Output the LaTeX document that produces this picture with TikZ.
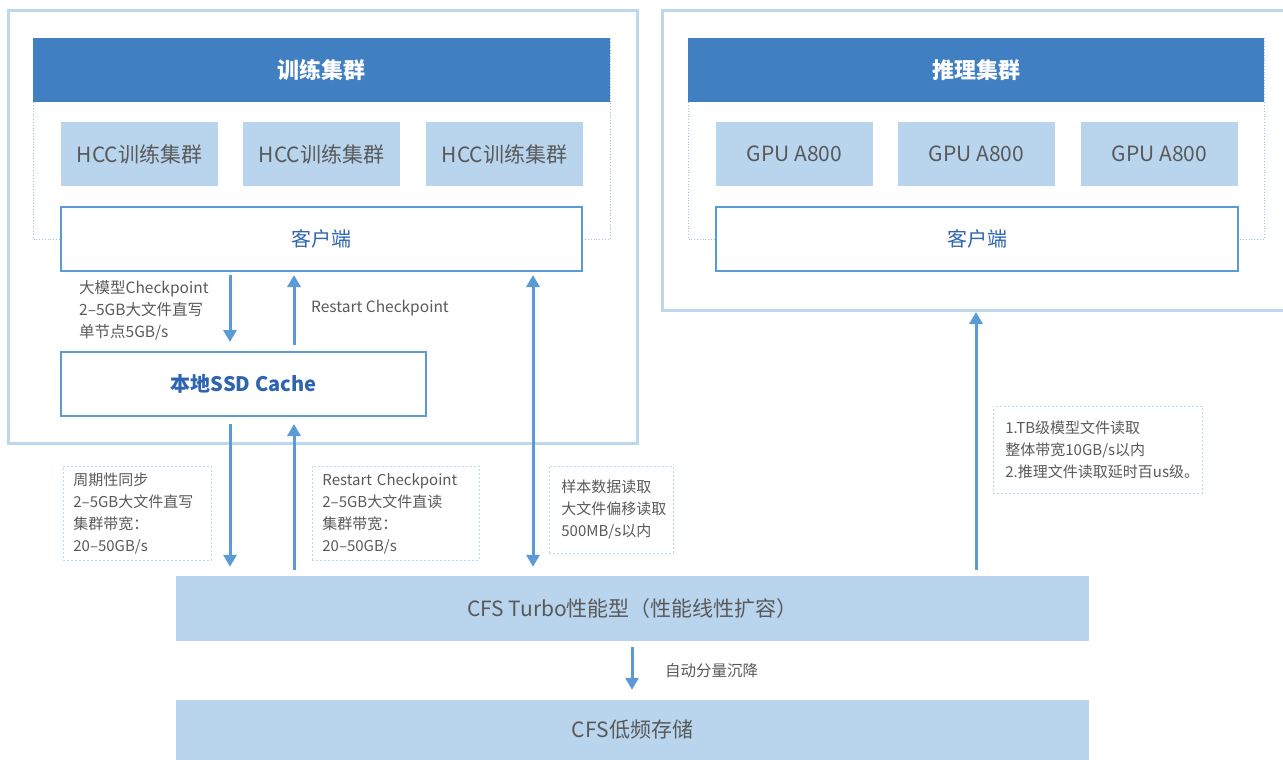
\documentclass[tikz,border=0pt]{standalone}
\usepackage{fontspec}
\setmainfont{Noto Sans CJK SC}
\usepackage{tikz}
\usetikzlibrary{arrows.meta}
\definecolor{frame}{HTML}{BDD7EE}
\definecolor{head}{HTML}{3F7FC2}
\definecolor{cell}{HTML}{B9D5EE}
\definecolor{wire}{HTML}{5B9BD5}
\definecolor{ink}{HTML}{595959}
\definecolor{deep}{HTML}{2E64B0}
\definecolor{dots}{HTML}{9DC3E6}
\tikzset{
  outerbox/.style={draw=frame, line width=3pt},
  group/.style={draw=dots, line width=0.8pt, dotted},
  header/.style={fill=head, text=white, minimum width=577pt, minimum height=64pt, font=\fontsize{22}{26}\selectfont\bfseries},
  unit/.style={fill=cell, text=ink, minimum width=157pt, minimum height=64pt, font=\fontsize{21}{24}\selectfont},
  client/.style={draw=wire, fill=white, line width=2pt, text=deep, minimum height=64pt, font=\fontsize{20}{24}\selectfont},
  store/.style={fill=cell, text=ink, minimum width=913pt, font=\fontsize{21}{24}\selectfont},
  flow/.style={draw=wire, line width=3pt, -{Triangle[width=13pt,length=12pt]}},
  note/.style={draw=frame, line width=0.8pt, dash pattern=on 2pt off 2pt, text=ink, align=left, anchor=north west, font=\fontsize{15}{22}\selectfont},
  lab/.style={text=ink, align=left, anchor=west, inner xsep=0pt, font=\fontsize{15.5}{22}\selectfont},
}

\begin{document}
\begin{tikzpicture}[x=1pt, y=-1pt]
  \useasboundingbox (0,0) rectangle (1283,760);

  % training cluster
  \draw[outerbox] (8,11) rectangle (637,443);
  \draw[group] (33,38) rectangle (610,239);
  \node[header] (trainHead) at (321.5,70) {训练集群};
  \node[unit] (hcc1) at (139.5,154) {HCC训练集群};
  \node[unit] (hcc2) at (321.5,154) {HCC训练集群};
  \node[unit] (hcc3) at (504.5,154) {HCC训练集群};
  \node[client, minimum width=521pt] (trainClient) at (321.5,239) {客户端};
  \node[client, minimum width=365pt, font=\fontsize{20}{24}\selectfont\bfseries] (ssd) at (243.5,384) {本地SSD Cache};

  % inference cluster
  \draw[outerbox] (1290,11) -- (662,11) -- (662,310) -- (1290,310);
  \coordinate (inferBase) at (976,310);
  \draw[group] (688,38) rectangle (1264,239);
  \node[header, minimum width=576pt] (inferHead) at (976,70) {推理集群};
  \node[unit] (gpu1) at (794.5,154) {GPU A800};
  \node[unit] (gpu2) at (976.5,154) {GPU A800};
  \node[unit] (gpu3) at (1159.5,154) {GPU A800};
  \node[client, minimum width=522pt] (inferClient) at (977,239) {客户端};

  % storage tiers
  \node[store, minimum height=65pt] (turbo) at (632.5,608.5) {CFS Turbo性能型（性能线性扩容）};
  \node[store, minimum height=60pt] (cold) at (632.5,730) {CFS低频存储};

  % arrow columns
  \coordinate (wx) at (230,0);
  \coordinate (rx) at (294,0);
  \coordinate (sx) at (533,0);
  \coordinate (ix) at (976,0);
  \coordinate (dx) at (632,0);

  \draw[flow, shorten <=3pt, shorten >=9pt] (trainClient.south -| wx) -- (ssd.north -| wx);
  \draw[flow, shorten <=6pt, shorten >=3pt] (ssd.north -| rx) -- (trainClient.south -| rx);
  \draw[flow, shorten <=7pt, shorten >=9pt] (ssd.south -| wx) -- (turbo.north -| wx);
  \draw[flow, shorten <=6pt, shorten >=7pt] (turbo.north -| rx) -- (ssd.south -| rx);
  \draw[flow, {Triangle[width=13pt,length=12pt]}-{Triangle[width=13pt,length=12pt]}, shorten <=9pt, shorten >=3pt] (turbo.north -| sx) -- (trainClient.south -| sx);
  \draw[flow, shorten <=6pt, shorten >=2pt] (turbo.north -| ix) -- (inferBase);
  \draw[flow, shorten <=6pt, shorten >=10pt] (turbo.south -| dx) -- (cold.north -| dx);

  % labels
  \node[lab] (ckptLab) at (79,310) {大模型Checkpoint\\2–5GB大文件直写\\单节点5GB/s};
  \node[lab] (restartLab) at (311,308) {Restart Checkpoint};
  \node[lab] (tierLab) at (665,671) {自动分量沉降};

  % notes
  \node[note, text width=128pt, inner xsep=10pt, minimum height=94pt] (syncNote) at (63,466) {周期性同步\\2–5GB大文件直写\\集群带宽：\\20–50GB/s};
  \node[note, text width=147pt, inner xsep=10pt, minimum height=94pt] (restoreNote) at (312,466) {Restart Checkpoint\\2–5GB大文件直读\\集群带宽：\\20–50GB/s};
  \node[note, text width=100pt, inner xsep=12pt, minimum height=87pt] (sampleNote) at (549,466) {样本数据读取\\大文件偏移读取\\500MB/s以内};
  \node[note, text width=185pt, inner xsep=12pt, minimum height=87pt] (modelNote) at (993,406) {1.TB级模型文件读取\\整体带宽10GB/s以内\\2.推理文件读取延时百us级。};
\end{tikzpicture}
\end{document}
